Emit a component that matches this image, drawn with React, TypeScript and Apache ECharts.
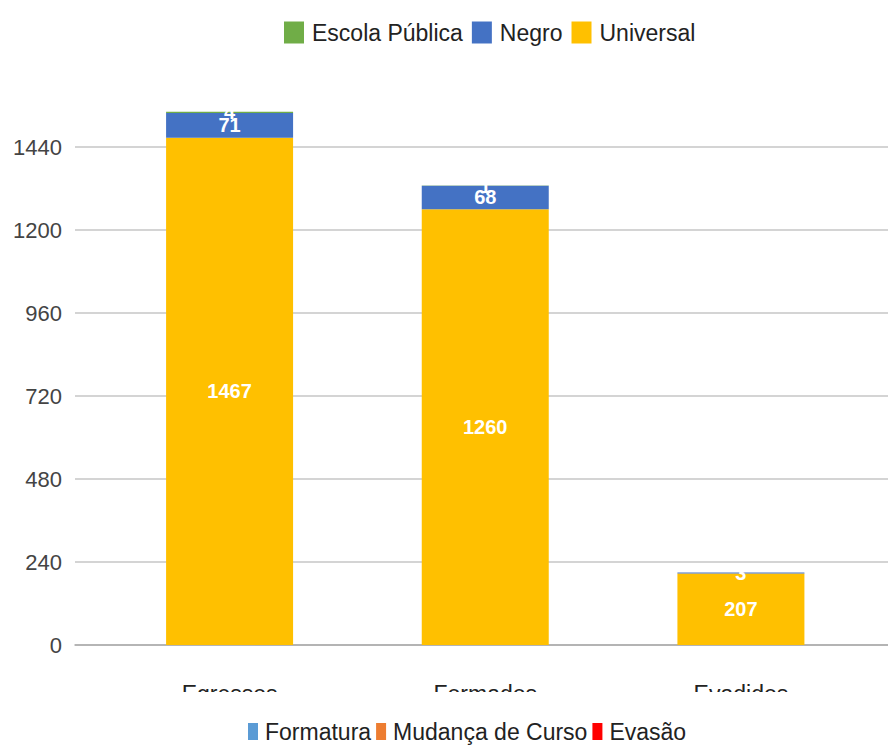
import React, { useEffect, useRef } from "react";
import * as echarts from "echarts";

const categories = ["Egressos", "Formados", "Evadidos"];
const universal = [1467, 1260, 207];
const negro = [71, 68, 3];
const escolaPublica = [4, 1, 0];
const yTicks = { min: 0, max: 1440, interval: 240 };
const bottomLegend = ["Formatura", "Mudança de Curso", "Evasão"];
const bottomColors = ["#5B9BD5", "#ED7D31", "#FF0000"];

const FONT = "'Liberation Sans', Arial, sans-serif";

export default function App() {
  const ref = useRef<HTMLDivElement>(null);
  useEffect(() => {
    document.body.style.margin = "0";
    const chart = echarts.init(ref.current!, null, { renderer: "svg" });
    const label = {
      show: true,
      position: "inside",
      color: "#fff",
      fontWeight: "bold",
      fontSize: 20,
      fontFamily: FONT,
      formatter: (p: any) => (p.value ? String(p.value) : ""),
    };
    chart.setOption({
      animation: false,
      backgroundColor: "#fff",
      textStyle: { fontFamily: FONT },
      grid: [
        { left: 75, right: 0, top: 147, bottom: 100 },
        { left: 101.75, right: 19.25, top: 64, bottom: 100 },
      ],
      xAxis: [
        {
          gridIndex: 0,
          type: "category",
          data: categories,
          axisLine: { show: true, lineStyle: { color: "#aaa", width: 1.5 } },
          axisTick: { show: false },
          axisLabel: { show: false },
        },
        {
          gridIndex: 1,
          type: "category",
          data: categories,
          axisLine: { show: false },
          axisTick: { show: false },
          axisLabel: { color: "#222", fontSize: 23, fontFamily: FONT, margin: 37 },
        },
      ],
      yAxis: [
        {
          gridIndex: 0,
          type: "value",
          min: yTicks.min,
          max: yTicks.max,
          interval: yTicks.interval,
          axisLine: { show: false },
          axisTick: { show: false },
          axisLabel: {
            color: "#444",
            fontSize: 22,
            fontFamily: FONT,
            margin: 13,
            formatter: (v: number) => String(v),
          },
          splitLine: { lineStyle: { color: "#c6c6c6", width: 1.5 } },
        },
        {
          gridIndex: 1,
          type: "value",
          min: 0,
          max: yTicks.max + yTicks.interval,
          interval: yTicks.interval,
          show: false,
          splitLine: { show: false },
        },
      ],
      legend: [
        {
          data: ["Escola Pública", "Negro", "Universal"],
          left: 279,
          top: 16,
          icon: "rect",
          itemWidth: 20,
          itemHeight: 22,
          itemGap: 9,
          textStyle: { fontSize: 23, color: "#222", fontFamily: FONT, padding: [0, 0, 0, 3] },
        },
        {
          data: bottomLegend,
          left: 243,
          top: 715,
          icon: "rect",
          itemWidth: 10,
          itemHeight: 17,
          itemGap: 5,
          textStyle: { fontSize: 23, color: "#222", fontFamily: FONT, padding: [0, 0, 0, 2] },
        },
      ],
      graphic: [
        {
          type: "rect",
          z: 100,
          shape: { x: 0, y: 692, width: 888, height: 21 },
          style: { fill: "#fff" },
        },
      ],
      series: [
        {
          name: "Universal",
          type: "bar",
          stack: "t",
          xAxisIndex: 1,
          yAxisIndex: 1,
          barWidth: 127,
          data: universal,
          itemStyle: { color: "#FFC000" },
          label,
        },
        {
          name: "Negro",
          type: "bar",
          stack: "t",
          xAxisIndex: 1,
          yAxisIndex: 1,
          barWidth: 127,
          data: negro,
          itemStyle: { color: "#4472C4" },
          label,
        },
        {
          name: "Escola Pública",
          type: "bar",
          stack: "t",
          xAxisIndex: 1,
          yAxisIndex: 1,
          barWidth: 127,
          data: escolaPublica,
          itemStyle: { color: "#70AD47" },
          label,
        },
        ...bottomLegend.map((n, i) => ({
          name: n,
          type: "line",
          xAxisIndex: 0,
          yAxisIndex: 0,
          data: [],
          itemStyle: { color: bottomColors[i] },
          lineStyle: { color: bottomColors[i] },
        })),
      ],
    });
    return () => chart.dispose();
  }, []);
  return <div ref={ref} style={{ width: 888, height: 745 }} />;
}
